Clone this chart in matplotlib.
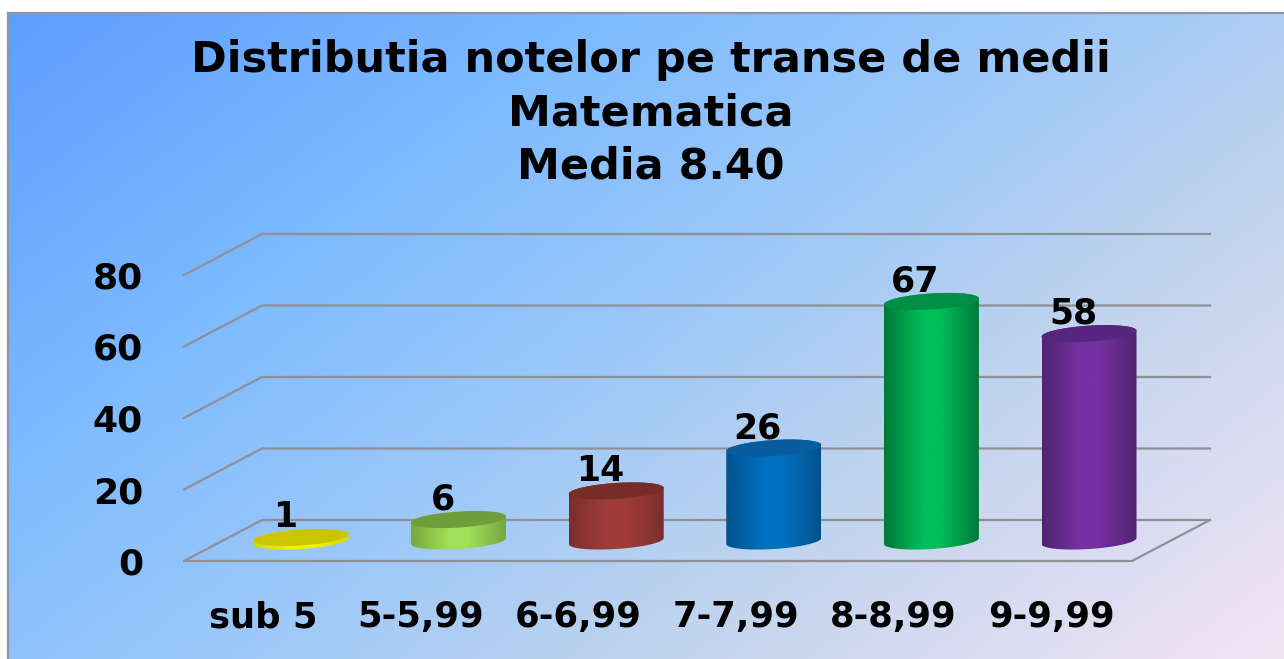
"""Distributia notelor - 3D style cylinder bars drawn on a flat axes."""
import matplotlib

matplotlib.use("Agg")
import matplotlib.pyplot as plt
import numpy as np
from matplotlib.colors import LinearSegmentedColormap
from matplotlib.patches import Polygon

title_lines = ["Distributia notelor pe transe de medii", "Matematica", "Media 8.40"]
categories = ["sub 5", "5-5,99", "6-6,99", "7-7,99", "8-8,99", "9-9,99"]
values = [1, 6, 14, 26, 67, 58]
y_ticks = [0, 20, 40, 60, 80]
cap_colors = ["#C9C500", "#6E9E3C", "#772C2A", "#0A5C9E", "#008F45", "#56267E"]
edge_colors = ["#D8D800", "#76A83C", "#7A2E2C", "#00528C", "#007A3A", "#50246F"]
mid_colors = ["#F2F200", "#A0E05A", "#A03C38", "#0070C0", "#00BD58", "#7530A3"]

W, H = 1284, 659
# pixel geometry of the fake 3d plot
X0, DX = 301, 157.6  # first bar centre, bar spacing
Y0, PY = 541, 3.575  # bar base line, pixels per unit


def cx(px):
    return (px - X0) / DX


def cy(px):
    return (Y0 - px) / PY


fig = plt.figure(figsize=(W / 100, H / 100), dpi=100, facecolor="white")

# background panel with diagonal gradient
bg = fig.add_axes([8 / W, 0, (W - 8) / W, (H - 13) / H])
xx, yy = np.meshgrid(np.linspace(0, 1, 400), np.linspace(0, 1, 200))
bg_cmap = LinearSegmentedColormap.from_list(
    "panel",
    [(0, "#5E9EFF"), (0.3, "#80BCFF"), (0.5, "#9CC8F8"), (0.7, "#C0D4EE"), (1, "#F3E4F5")],
)
bg.imshow(0.6 * xx + 0.4 * yy, cmap=bg_cmap, vmin=0, vmax=1, aspect="auto")
bg.set_xticks([])
bg.set_yticks([])
for name, spine in bg.spines.items():
    spine.set_visible(name in ("left", "top"))
    spine.set_color("#8E96A6")
    spine.set_linewidth(1.6)

ax = fig.add_axes([0, 0, 1, 1])
ax.patch.set_visible(False)
ax.axis("off")

# walls and floor
GRID = "#8E9096"
front_l, back_l, front_r, back_r = cx(184), cx(262), cx(1132), cx(1210)
depth = 20 / PY  # front plane sits 20px below the bar line
for v in y_ticks:
    ax.plot(
        [front_l, back_l, back_r],
        [v - depth, v + 21 / PY, v + 21 / PY],
        color=GRID, lw=1.6, zorder=1,
    )
ax.plot(
    [front_l, front_r, back_r],
    [-depth, -depth, 21 / PY],
    color=GRID, lw=1.6, zorder=1,
)

# cylinders
a = 47.5 / DX
b = 8 / PY
tilt = 3 / PY
t_low = np.linspace(np.pi, 2 * np.pi, 60)
t_high = np.linspace(0, np.pi, 60)
t_all = np.linspace(0, 2 * np.pi, 120)


def ellipse(x, y, t):
    return np.column_stack([x + a * np.cos(t), y + b * np.sin(t) + tilt * np.cos(t)])


for i, v in enumerate(values):
    body = np.vstack([ellipse(i, 0, t_low), ellipse(i, v, t_high)])
    side = LinearSegmentedColormap.from_list(
        f"side{i}",
        [(0, edge_colors[i]), (0.4, mid_colors[i]), (0.6, mid_colors[i]), (1, edge_colors[i])],
    )
    im = ax.imshow(
        np.linspace(0, 1, 128)[None, :], cmap=side, aspect="auto", zorder=2,
        extent=[i - a, i + a, -b * 2, v + b * 2],
    )
    im.set_clip_path(Polygon(body, transform=ax.transData))
    ax.add_patch(Polygon(ellipse(i, v, t_all), facecolor=cap_colors[i], edgecolor="none", zorder=3))
    ax.annotate(
        str(v), (i, v), xytext=(-16 * 0.72, 20 * 0.72), textcoords="offset points",
        ha="center", va="center", fontsize=25, fontweight="bold", color="black", zorder=4,
    )

ax.set_xlim(cx(0), cx(W))
ax.set_ylim(cy(H), cy(0))

for v in y_ticks:
    ax.text(cx(143), v - 23.5 / PY, str(v), ha="right", va="center",
            fontsize=26, fontweight="bold", color="black")
for i, name in enumerate(categories):
    ax.text(i - 38 / DX, cy(617), name, ha="center", va="center",
            fontsize=25.5, fontweight="bold", color="black")
for line, py in zip(title_lines, [60, 113, 166]):
    ax.text(cx(651), cy(py), line, ha="center", va="center",
            fontsize=31, fontweight="bold", color="black")

fig.savefig("out.png", dpi=100)
